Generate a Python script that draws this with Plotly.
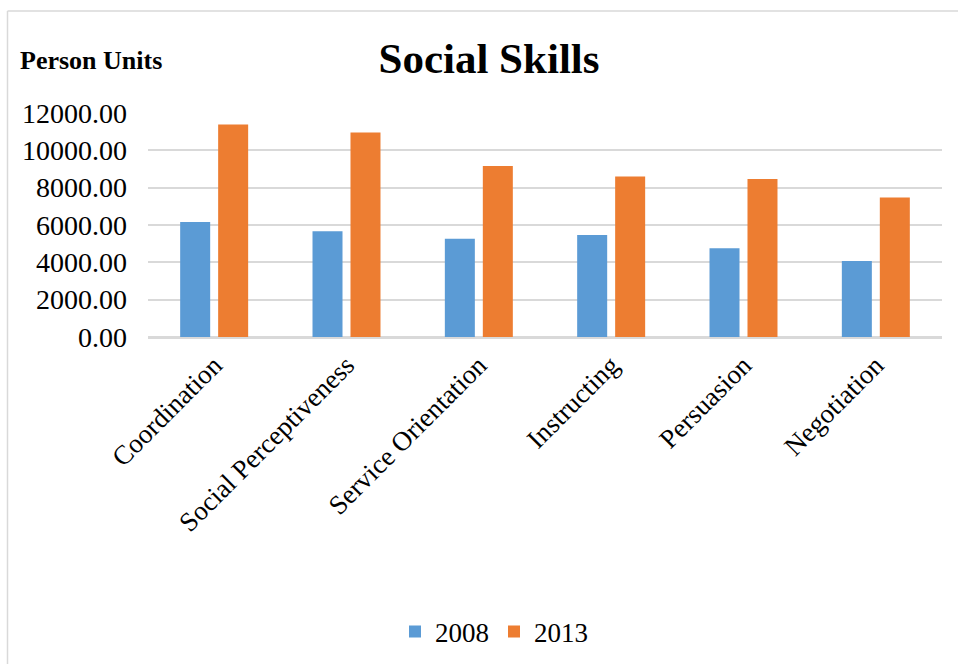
import plotly.graph_objects as go

categories = ["Coordination", "Social Perceptiveness", "Service Orientation",
              "Instructing", "Persuasion", "Negotiation"]
values_2008 = [6160, 5660, 5270, 5460, 4750, 4070]
values_2013 = [11380, 10950, 9160, 8600, 8460, 7470]
series_names = ["2008", "2013"]
y_ticks = [0, 2000, 4000, 6000, 8000, 10000, 12000]

W, H = 958, 664
L, R, T, B = 148, 16, 113, 327

fig = go.Figure()
fig.add_trace(go.Bar(x=categories, y=values_2008, name=series_names[0],
                     marker=dict(color="#5B9BD5", line=dict(width=0))))
fig.add_trace(go.Bar(x=categories, y=values_2013, name=series_names[1],
                     marker=dict(color="#ED7D31", line=dict(width=0))))

font_family = "Liberation Serif, Times New Roman, serif"

fig.update_layout(
    width=W, height=H,
    margin=dict(l=L, r=R, t=T, b=B, autoexpand=False),
    paper_bgcolor="white", plot_bgcolor="white",
    barmode="group", bargap=0.426, bargroupgap=0.21,
    font=dict(family=font_family, color="black"),
    title=dict(text="<b>Social Skills</b>", x=489 / W, xref="container",
               y=1 - 58 / H, yref="container", xanchor="center", yanchor="middle",
               font=dict(size=43, family=font_family, color="black")),
    legend=dict(orientation="h", xref="container", yref="container",
                x=494 / W, y=1 - 632 / H, xanchor="center", yanchor="middle",
                font=dict(size=27, family=font_family), itemwidth=30,
                traceorder="normal"),
    xaxis=dict(tickangle=-45, tickfont=dict(size=27, family=font_family),
               showgrid=False, showline=True, linecolor="#d9d9d9", linewidth=1.5,
               ticks=""),
    yaxis=dict(range=[0, 12000], tickvals=y_ticks, tickformat=".2f",
               tickfont=dict(size=28, family=font_family),
               showgrid=True, gridcolor="#d9d9d9", gridwidth=1.5,
               zeroline=True, zerolinecolor="#d9d9d9", zerolinewidth=1.5,
               showline=False, ticks="", ticklabelstandoff=20),
    annotations=[dict(text="<b>Person Units</b>", xref="paper", yref="paper",
                      x=(18 - L) / (W - L - R), y=(H - B - 61) / (H - T - B),
                      xanchor="left", yanchor="middle", showarrow=False,
                      font=dict(size=26, family=font_family, color="black"))],
    shapes=[
        dict(type="line", xref="paper", yref="paper",
             x0=(7.5 - L) / (W - L - R), x1=(W - L) / (W - L - R) + 0.01,
             y0=(H - B - 11) / (H - T - B), y1=(H - B - 11) / (H - T - B),
             line=dict(color="#d9d9d9", width=1.5)),
        dict(type="line", xref="paper", yref="paper",
             x0=(7.5 - L) / (W - L - R), x1=(7.5 - L) / (W - L - R),
             y0=(H - B - 11) / (H - T - B), y1=-(B + 5) / (H - T - B),
             line=dict(color="#d9d9d9", width=1.5)),
    ],
)

fig.write_html("out.html", config={"displayModeBar": False})

# remove default page margin so the figure sits at the window origin
with open("out.html", "r", encoding="utf-8") as f:
    html = f.read()
html = html.replace("<head>", "<head><style>html,body{margin:0;padding:0;overflow:hidden;}</style>", 1)
with open("out.html", "w", encoding="utf-8") as f:
    f.write(html)
